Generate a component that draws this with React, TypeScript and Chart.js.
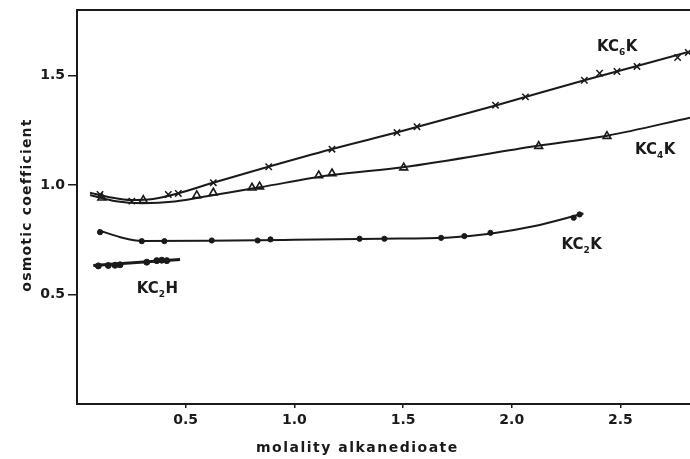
import React, { useEffect, useRef } from "react";
import { Chart, registerables } from "chart.js";

Chart.register(...registerables);

// ---- data ----
// KC6K (crosses)
const kc6kX = [0.106, 0.252, 0.42, 0.466, 0.627, 0.882, 1.173, 1.472, 1.564, 1.925, 2.063, 2.334, 2.404, 2.484, 2.576, 2.763, 2.812];
const kc6kY = [0.957, 0.927, 0.957, 0.962, 1.011, 1.084, 1.164, 1.24, 1.267, 1.365, 1.403, 1.479, 1.511, 1.519, 1.542, 1.583, 1.606];
const kc6kCurveX = [0.06, 0.15, 0.25, 0.35, 0.45, 0.63, 0.88, 1.17, 1.5, 1.93, 2.33, 2.82];
const kc6kCurveY = [0.965, 0.945, 0.932, 0.937, 0.958, 1.012, 1.084, 1.164, 1.248, 1.365, 1.478, 1.61];

// KC4K (open triangles)
const kc4kX = [0.114, 0.305, 0.551, 0.627, 0.805, 0.84, 1.112, 1.173, 1.503, 2.124, 2.438];
const kc4kY = [0.942, 0.931, 0.953, 0.965, 0.988, 0.993, 1.044, 1.053, 1.08, 1.178, 1.224];
const kc4kCurveX = [0.06, 0.18, 0.3, 0.45, 0.63, 0.84, 1.17, 1.5, 2.12, 2.44, 2.82];
const kc4kCurveY = [0.955, 0.926, 0.917, 0.925, 0.955, 0.99, 1.046, 1.082, 1.18, 1.226, 1.308];

// KC2K (dots)
const kc2kX = [0.106, 0.298, 0.402, 0.62, 0.831, 0.89, 1.3, 1.414, 1.675, 1.782, 1.902, 2.285, 2.312];
const kc2kY = [0.785, 0.744, 0.744, 0.747, 0.747, 0.752, 0.755, 0.755, 0.759, 0.767, 0.782, 0.851, 0.866];
const kc2kCurveX = [0.098, 0.2, 0.3, 0.6, 1.0, 1.4, 1.7, 1.9, 2.1, 2.33];
const kc2kCurveY = [0.794, 0.762, 0.745, 0.746, 0.75, 0.755, 0.76, 0.778, 0.812, 0.87];

// KC2H (dots)
const kc2hX = [0.098, 0.144, 0.175, 0.198, 0.321, 0.367, 0.39, 0.413];
const kc2hY = [0.631, 0.633, 0.634, 0.636, 0.648, 0.655, 0.657, 0.655];
const kc2hCurveX = [0.075, 0.474];
const kc2hCurveY = [0.633, 0.66];

const xTicks = [0.5, 1.0, 1.5, 2.0, 2.5];
const yTicks = [0.5, 1.0, 1.5];

const xTitle = "molality alkanedioate";
const yTitle = "osmotic coefficient";

// series labels: [main, subscript, tail, x, y] (anchor in data units)
const seriesLabels: [string, string, string, number, number][] = [
  ["KC", "6", "K", 2.392, 1.612],
  ["KC", "4", "K", 2.567, 1.14],
  ["KC", "2", "K", 2.229, 0.706],
  ["KC", "2", "H", 0.275, 0.508],
];

const INK = "#1a1a1a";
const FONT = "DejaVu Sans";

const pts = (xs: number[], ys: number[]) => xs.map((x, i) => ({ x, y: ys[i] }));

const overlay = {
  id: "overlay",
  afterDatasetsDraw(chart: any) {
    const { ctx, chartArea, scales } = chart;
    const xs = scales.x;
    const ys = scales.y;
    ctx.save();
    // top frame line
    ctx.strokeStyle = INK;
    ctx.lineWidth = 2;
    ctx.beginPath();
    ctx.moveTo(chartArea.left - 1, chartArea.top);
    ctx.lineTo(chartArea.right, chartArea.top);
    ctx.stroke();

    ctx.fillStyle = INK;
    ctx.textBaseline = "alphabetic";
    ctx.textAlign = "left";
    for (const [main, sub, tail, lx, ly] of seriesLabels) {
      let px = xs.getPixelForValue(lx);
      const py = ys.getPixelForValue(ly);
      ctx.font = `bold 15px "${FONT}"`;
      ctx.fillText(main, px, py);
      px += ctx.measureText(main).width;
      ctx.font = `bold 9px "${FONT}"`;
      ctx.fillText(sub, px, py + 4);
      px += ctx.measureText(sub).width + 0.5;
      ctx.font = `bold 15px "${FONT}"`;
      ctx.fillText(tail, px, py);
    }

    // axis titles
    (ctx as any).letterSpacing = "1.5px";
    ctx.font = `bold 14px "${FONT}"`;
    ctx.textAlign = "center";
    ctx.textBaseline = "middle";
    ctx.fillText(xTitle, xs.getPixelForValue(1.29), chartArea.bottom + 44);
    ctx.translate(27, (chartArea.top + chartArea.bottom) / 2 - 2);
    ctx.rotate(-Math.PI / 2);
    (ctx as any).letterSpacing = "1.2px";
    ctx.fillText(yTitle, 0, 0);
    ctx.restore();
  },
};

export default function App() {
  const ref = useRef<HTMLCanvasElement>(null);
  useEffect(() => {
    if (!ref.current) return;
    const curve = (xs: number[], ys: number[], w = 2) => ({
      data: pts(xs, ys),
      showLine: true,
      borderColor: INK,
      borderWidth: w,
      pointRadius: 0,
      cubicInterpolationMode: "monotone" as const,
      fill: false,
    });
    const chart = new Chart(ref.current, {
      type: "scatter",
      data: {
        datasets: [
          curve(kc6kCurveX, kc6kCurveY),
          curve(kc4kCurveX, kc4kCurveY),
          curve(kc2kCurveX, kc2kCurveY),
          curve(kc2hCurveX, kc2hCurveY, 3),
          {
            data: pts(kc6kX, kc6kY),
            pointStyle: "crossRot",
            pointRadius: 4.5,
            borderColor: INK,
            borderWidth: 1.5,
            showLine: false,
          },
          {
            data: pts(kc4kX, kc4kY),
            pointStyle: "triangle",
            pointRadius: 4.5,
            borderColor: INK,
            backgroundColor: "rgba(255,255,255,0)",
            borderWidth: 1.6,
            showLine: false,
          },
          {
            data: pts(kc2kX, kc2kY),
            pointStyle: "circle",
            pointRadius: 2.6,
            borderColor: INK,
            backgroundColor: INK,
            borderWidth: 1,
            showLine: false,
          },
          {
            data: pts(kc2hX, kc2hY),
            pointStyle: "circle",
            pointRadius: 3,
            borderColor: INK,
            backgroundColor: INK,
            borderWidth: 1,
            showLine: false,
          },
        ],
      },
      options: {
        animation: false,
        responsive: false,
        devicePixelRatio: 1,
        layout: { autoPadding: false, padding: { top: 10, right: 0, bottom: 0, left: 0 } },
        plugins: { legend: { display: false }, tooltip: { enabled: false } },
        scales: {
          x: {
            type: "linear",
            min: 0,
            max: 2.82,
            afterFit: (s: any) => {
              s.height = 55;
              s.paddingLeft = 0;
              s.paddingRight = 0;
            },
            afterBuildTicks: (s: any) => {
              s.ticks = xTicks.map((v) => ({ value: v }));
            },
            ticks: {
              color: INK,
              padding: 4,
              font: { family: FONT, size: 14, weight: "bold" },
              callback: (v: any) => Number(v).toFixed(1),
            },
            grid: { display: true, drawOnChartArea: false, drawTicks: true, tickLength: 4, color: INK, lineWidth: 1.5 },
            border: { display: true, color: INK, width: 2 },
          },
          y: {
            type: "linear",
            min: 0,
            max: 1.8,
            afterFit: (s: any) => {
              s.width = 77;
              s.paddingTop = 0;
              s.paddingBottom = 0;
            },
            afterBuildTicks: (s: any) => {
              s.ticks = yTicks.map((v) => ({ value: v }));
            },
            ticks: {
              color: INK,
              padding: 3,
              font: { family: FONT, size: 14, weight: "bold" },
              callback: (v: any) => Number(v).toFixed(1),
            },
            grid: { display: true, drawOnChartArea: false, drawTicks: true, tickLength: 9, color: INK, lineWidth: 1.5 },
            border: { display: true, color: INK, width: 2 },
          },
        },
      },
      plugins: [overlay],
    } as any);
    return () => chart.destroy();
  }, []);
  return (
    <div style={{ position: "fixed", left: 0, top: 0, width: 690, height: 459, background: "#fff" }}>
      <canvas ref={ref} width={690} height={459} style={{ display: "block" }} />
    </div>
  );
}
